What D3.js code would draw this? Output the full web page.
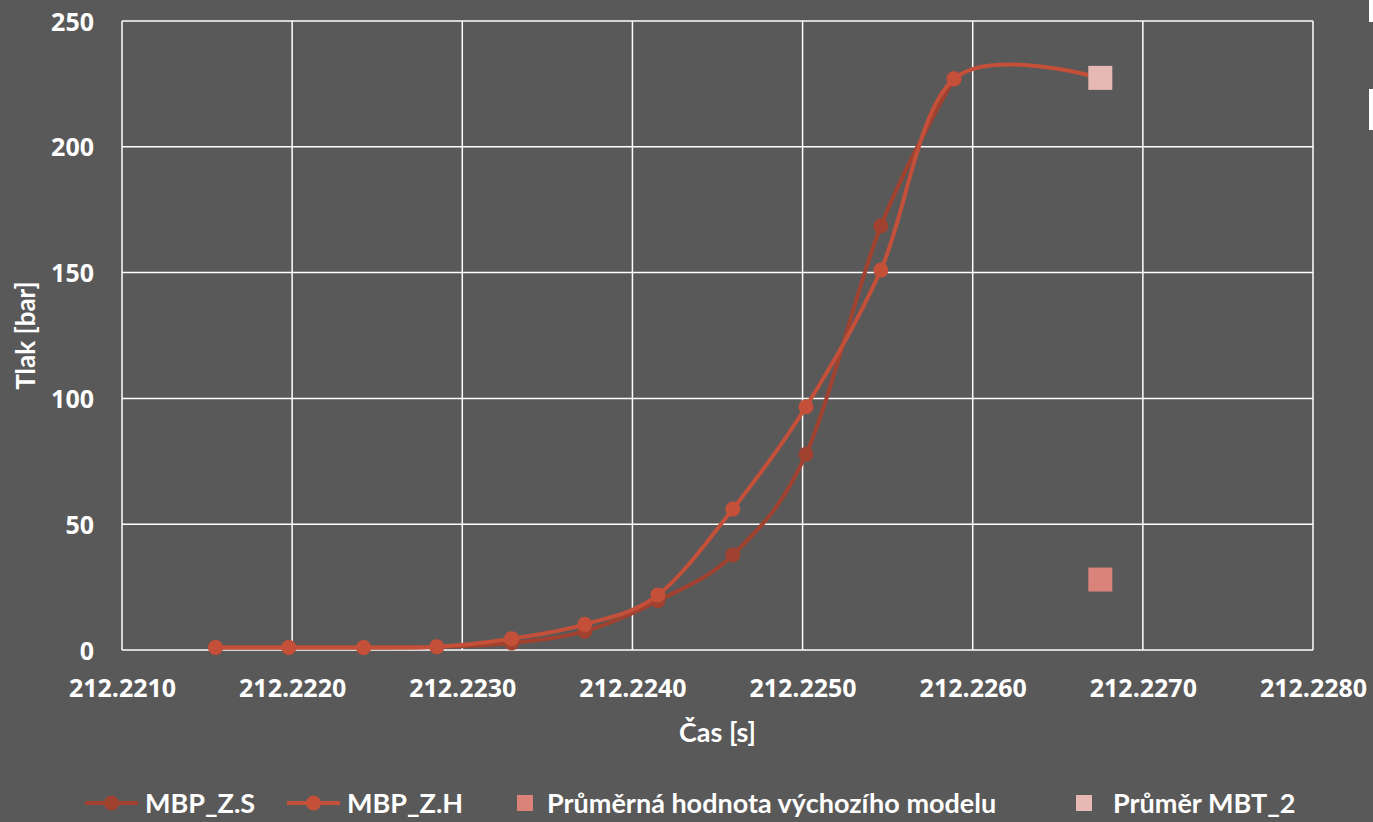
<!DOCTYPE html>
<html>
<head>
<meta charset="utf-8">
<script src="https://cdn.jsdelivr.net/npm/d3@7"></script>
<style>
  html, body { margin: 0; padding: 0; background: #595959; }
  svg { display: block; }
</style>
</head>
<body>
<svg id="chart" width="1373" height="822"></svg>
<script>
// Pressure rise over time for two model variants plus two mean-value markers
const timesS = [212.22155, 212.22198, 212.22242, 212.22285, 212.22329, 212.22372, 212.22415, 212.22459, 212.22502, 212.22546, 212.22589];
const valuesS = [1, 1, 1, 1.3, 2.8, 7.5, 19.6, 37.8, 77.8, 168.5, 227];

const timesH = [212.22155, 212.22198, 212.22242, 212.22285, 212.22329, 212.22372, 212.22415, 212.22459, 212.22502, 212.22546, 212.22589, 212.22675];
const valuesH = [1, 1, 1, 1.3, 4.5, 10.2, 21.9, 56, 96.7, 151, 227, 227.3];

const meanDefaultTime = [212.22675];
const meanDefaultValue = [28];
const meanMbtTime = [212.22675];
const meanMbtValue = [227.4];

const xTicks = [212.2210, 212.2220, 212.2230, 212.2240, 212.2250, 212.2260, 212.2270, 212.2280];
const yTicks = [0, 50, 100, 150, 200, 250];

const seriesNames = ["MBP_Z.S", "MBP_Z.H", "Průměrná hodnota výchozího modelu", "Průměr MBT_2"];
const colS = "#A0422F", colH = "#C5503A", colMeanA = "#D9837A", colMeanB = "#E6B9B4";

const svg = d3.select("#chart");
const W = 1373, H = 822;
const plot = { left: 122, right: 1313, top: 21, bottom: 650 };

svg.append("rect").attr("width", W).attr("height", H).attr("fill", "#595959");

const x = d3.scaleLinear().domain([212.2210, 212.2280]).range([plot.left, plot.right]);
const y = d3.scaleLinear().domain([0, 250]).range([plot.bottom, plot.top]);

// Gridlines
const grid = svg.append("g");
grid.selectAll("line.v").data(xTicks).join("line")
  .attr("x1", d => x(d)).attr("x2", d => x(d))
  .attr("y1", plot.top).attr("y2", plot.bottom)
  .attr("stroke", "#ffffff").attr("stroke-width", 1.5);
grid.selectAll("line.h").data(yTicks).join("line")
  .attr("x1", plot.left).attr("x2", plot.right)
  .attr("y1", d => y(d)).attr("y2", d => y(d))
  .attr("stroke", "#ffffff").attr("stroke-width", 1.5);

// Tick labels
const tickFont = "'Open Sans', sans-serif";
const xAxis = d3.axisBottom(x).tickValues(xTicks).tickFormat(d3.format(".4f")).tickSize(0).tickPadding(29);
const gx = svg.append("g").attr("transform", `translate(0,${plot.bottom})`).call(xAxis);
gx.select(".domain").remove();
gx.selectAll("text").attr("fill", "#ffffff").attr("font-family", tickFont)
  .attr("font-weight", 700).attr("font-size", 25).attr("dy", "0.71em");

const yAxis = d3.axisLeft(y).tickValues(yTicks).tickSize(0).tickPadding(28);
const gy = svg.append("g").attr("transform", `translate(${plot.left},0)`).call(yAxis);
gy.select(".domain").remove();
gy.selectAll("text").attr("fill", "#ffffff").attr("font-family", tickFont)
  .attr("font-weight", 700).attr("font-size", 25).attr("dy", "0.36em");

// Axis titles
const titleFont = "Lato, 'Open Sans', sans-serif";
svg.append("text").attr("x", (plot.left + plot.right) / 2).attr("y", 742)
  .attr("text-anchor", "middle").attr("fill", "#ffffff")
  .attr("font-family", titleFont).attr("font-weight", 700).attr("font-size", 27)
  .text("Čas [s]");
svg.append("text").attr("transform", `translate(35,${(plot.top + plot.bottom) / 2}) rotate(-90)`)
  .attr("text-anchor", "middle").attr("fill", "#ffffff")
  .attr("font-family", titleFont).attr("font-weight", 700).attr("font-size", 26)
  .text("Tlak [bar]");

// Smoothed series lines
const line = d3.line().x(d => x(d[0])).y(d => y(d[1])).curve(d3.curveCardinal.tension(0));
const dataS = timesS.map((t, i) => [t, valuesS[i]]);
const dataH = timesH.map((t, i) => [t, valuesH[i]]);

function drawSeries(data, color) {
  const g = svg.append("g");
  g.append("path").datum(data).attr("d", line)
    .attr("fill", "none").attr("stroke", color).attr("stroke-width", 4)
    .attr("stroke-linejoin", "round").attr("stroke-linecap", "round");
  g.selectAll("circle").data(data).join("circle")
    .attr("cx", d => x(d[0])).attr("cy", d => y(d[1])).attr("r", 7.5)
    .attr("fill", color);
}
drawSeries(dataS, colS);
drawSeries(dataH, colH);

// Mean markers
const sq = 24;
function drawSquares(ts, vs, color) {
  svg.append("g").selectAll("rect").data(ts.map((t, i) => [t, vs[i]])).join("rect")
    .attr("x", d => x(d[0]) - sq / 2).attr("y", d => y(d[1]) - sq / 2)
    .attr("width", sq).attr("height", sq).attr("fill", color);
}
drawSquares(meanDefaultTime, meanDefaultValue, colMeanA);
drawSquares(meanMbtTime, meanMbtValue, colMeanB);

// Edge fragments of neighbouring frames
svg.append("rect").attr("x", 1369).attr("y", 0).attr("width", 4).attr("height", 22).attr("fill", "#ffffff");
svg.append("rect").attr("x", 1369).attr("y", 89).attr("width", 4).attr("height", 41).attr("fill", "#ffffff");

// Legend
const legY = 803;
const legend = svg.append("g").attr("font-family", titleFont).attr("font-weight", 700).attr("font-size", 27).attr("fill", "#ffffff");
const legItems = [
  { type: "line", color: colS, x0: 85, tx: 145 },
  { type: "line", color: colH, x0: 287, tx: 347 },
  { type: "square", color: colMeanA, x0: 517, tx: 547 },
  { type: "square", color: colMeanB, x0: 1076, tx: 1113 }
];
legItems.forEach((it, i) => {
  if (it.type === "line") {
    legend.append("line").attr("x1", it.x0).attr("x2", it.x0 + 53).attr("y1", legY).attr("y2", legY)
      .attr("stroke", it.color).attr("stroke-width", 4);
    legend.append("circle").attr("cx", it.x0 + 26.5).attr("cy", legY).attr("r", 7.5).attr("fill", it.color);
  } else {
    legend.append("rect").attr("x", it.x0).attr("y", legY - 8).attr("width", 16).attr("height", 16).attr("fill", it.color);
  }
  legend.append("text").attr("x", it.tx).attr("y", legY).attr("dy", "0.36em").text(seriesNames[i]);
});
</script>
</body>
</html>
